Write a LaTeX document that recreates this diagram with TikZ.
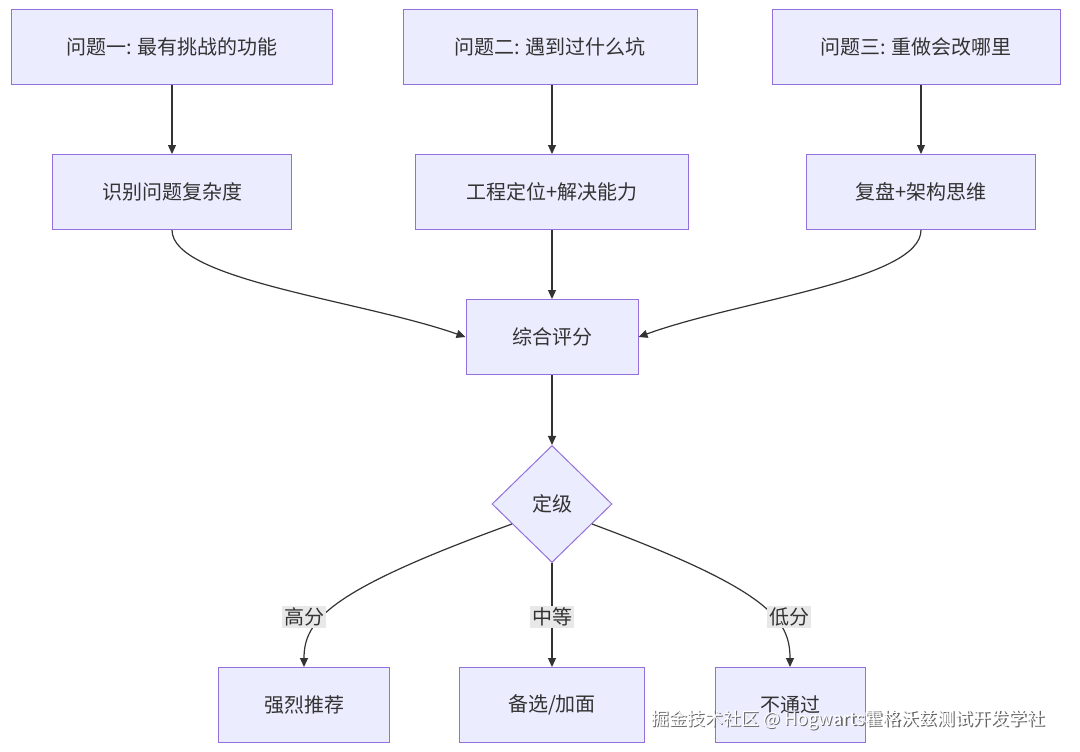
\documentclass[tikz,border=0pt]{standalone}
\usepackage{fontspec}
\newfontfamily\cjk{Noto Sans CJK SC}
\usetikzlibrary{shapes.geometric,arrows.meta}
\definecolor{boxfill}{HTML}{ECECFF}
\definecolor{boxline}{HTML}{9370DB}
\definecolor{edge}{HTML}{333333}
\definecolor{lblbg}{HTML}{E8E8E8}
\tikzset{
  box/.style={draw=boxline,fill=boxfill,line width=1pt,minimum height=75pt,inner sep=0pt,font=\cjk\fontsize{20}{23}\selectfont,text=edge},
  dia/.style={diamond,draw=boxline,fill=boxfill,line width=1pt,minimum width=120pt,minimum height=117pt,inner sep=0pt,font=\cjk\fontsize{20}{23}\selectfont,text=edge},
  link/.style={draw=edge,line width=1.2pt,-{Triangle[length=9pt,width=8pt]}},
  lbl/.style={fill=lblbg,inner sep=2pt,font=\cjk\fontsize{20}{23}\selectfont,text=edge}
}
\begin{document}
\begin{tikzpicture}[x=1pt,y=-1pt]
\useasboundingbox[fill=white] (0,0) rectangle (1080,752);
% questions
\node[box,minimum width=321pt] (q1) at (172,47) {问题一: 最有挑战的功能};
\node[box,minimum width=294pt] (q2) at (550,47) {问题二: 遇到过什么坑};
\node[box,minimum width=288pt] (q3) at (916,47) {问题三: 重做会改哪里};
% abilities
\node[box,minimum width=239pt] (a1) at (172,192) {识别问题复杂度};
\node[box,minimum width=273pt] (a2) at (552,192) {工程定位+解决能力};
\node[box,minimum width=229pt] (a3) at (921,192) {复盘+架构思维};
\node[box,minimum width=172pt] (sc) at (552,337) {综合评分};
\node[dia] (lv) at (552,504) {定级};
% results
\node[box,minimum width=171pt] (r1) at (304,705) {强烈推荐};
\node[box,minimum width=185pt] (r2) at (552,705) {备选/加面};
\node[box,minimum width=150pt] (r3) at (790,705) {不通过};
\draw[link] (q1) -- (a1);
\draw[link] (a2 |- q2.south) -- (a2.north);
\draw[link] (a3 |- q3.south) -- (a3.north);
\draw[link] (a1.south) .. controls (172,280) and (360,300) .. (sc.west);
\draw[link] (a2) -- (sc);
\draw[link] (a3.south) .. controls (921,280) and (740,300) .. (sc.east);
\draw[link] (sc) -- (lv);
\coordinate (d1) at (512,524);
\coordinate (d3) at (592,524);
\draw[link] (d1) .. controls (330,590) and (304,620) .. (r1.north);
\draw[link] (lv.south) -- (r2.north);
\draw[link] (d3) .. controls (770,590) and (790,620) .. (r3.north);
\node[lbl] (l1) at (304,617) {高分};
\node[lbl] (l2) at (552,617) {中等};
\node[lbl] (l3) at (789,617) {低分};
% watermark
\node[font=\cjk\fontsize{18}{20}\selectfont,text=black!60] at (849.5,721.5) {掘金技术社区 @ Hogwarts霍格沃兹测试开发学社};
\node[font=\cjk\fontsize{18}{20}\selectfont,text=white] (wm) at (848,720) {掘金技术社区 @ Hogwarts霍格沃兹测试开发学社};
\end{tikzpicture}
\end{document}
